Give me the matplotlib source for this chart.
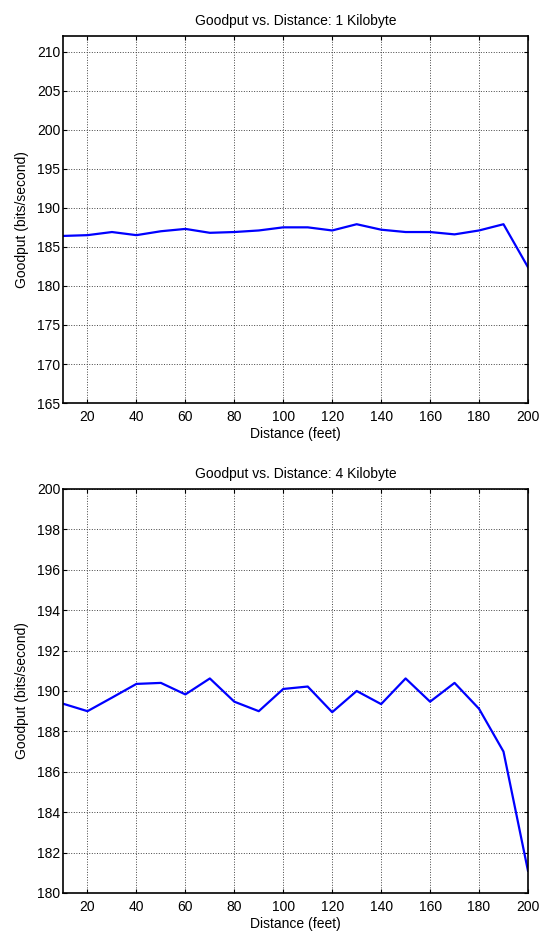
import matplotlib.pyplot as plt

plt.rcParams['font.family'] = ['Liberation Sans', 'DejaVu Sans']

# Data
distance = [10, 20, 30, 40, 50, 60, 70, 80, 90, 100,
            110, 120, 130, 140, 150, 160, 170, 180, 190, 200]
goodput_1kb = [186.4, 186.5, 186.9, 186.5, 187.0, 187.3, 186.8, 186.9, 187.1, 187.5,
               187.5, 187.1, 187.9, 187.2, 186.9, 186.9, 186.6, 187.1, 187.9, 182.4]
goodput_4kb = [189.37, 189.0, 189.67, 190.35, 190.4, 189.83, 190.62, 189.47, 189.0, 190.1,
               190.22, 188.95, 190.0, 189.35, 190.62, 189.47, 190.4, 189.12, 187.0, 181.1]

x_ticks = list(range(20, 201, 20))
y_ticks_1kb = list(range(165, 211, 5))
y_ticks_4kb = list(range(180, 201, 2))

fig = plt.figure(figsize=(5.4, 9.33), dpi=100)
ax1 = fig.add_axes([0.1167, 0.568, 0.861, 0.3934])
ax2 = fig.add_axes([0.1167, 0.0429, 0.861, 0.433])


def style(ax, title, yticks, ylim):
    ax.set_xlim(10, 200)
    ax.set_ylim(*ylim)
    ax.set_xticks(x_ticks)
    ax.set_yticks(yticks)
    ax.grid(True, linestyle=':', color='#444444', linewidth=0.7)
    ax.tick_params(direction='in', top=True, right=True, labelsize=10, length=3, width=0.8, pad=2)
    ax.tick_params(axis='x', pad=5)
    for s in ax.spines.values():
        s.set_linewidth(1.2)
    ax.set_title(title, fontsize=10, pad=8)
    ax.set_xlabel('Distance (feet)', fontsize=10, labelpad=2)
    ax.set_ylabel('Goodput (bits/second)', fontsize=10, labelpad=6)


ax1.plot(distance, goodput_1kb, color='blue', linewidth=1.6)
style(ax1, 'Goodput vs. Distance: 1 Kilobyte', y_ticks_1kb, (165, 212))

ax2.plot(distance, goodput_4kb, color='blue', linewidth=1.6)
style(ax2, 'Goodput vs. Distance: 4 Kilobyte', y_ticks_4kb, (180, 200))

plt.savefig('out.png', dpi=100)
